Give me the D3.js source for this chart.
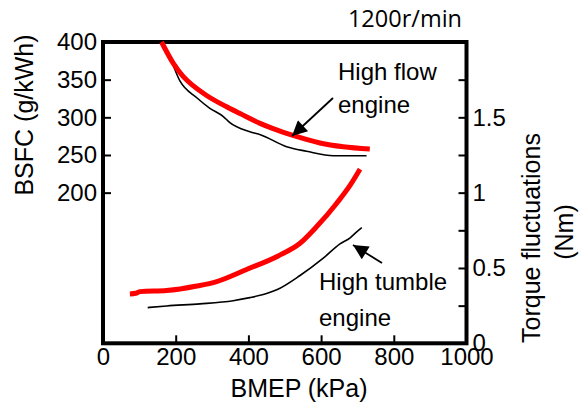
<!DOCTYPE html>
<html>
<head>
<meta charset="utf-8">
<script src="https://cdn.jsdelivr.net/npm/d3@7"></script>
<style>
  body { margin: 0; background: #fff; }
  svg text { font-family: "Liberation Sans", Arial, sans-serif; fill: #000; }
</style>
</head>
<body>
<div id="box"></div>
<script>
// BSFC curves (upper), BMEP in kPa
var flowBsfcX = [161, 193, 221, 248, 285, 340, 377, 432, 468, 523, 597, 661, 734];
var flowBsfcY = [400, 372, 354, 342, 329, 314, 305, 292, 285, 276, 266, 261, 258];
var tumbleBsfcX = [160, 184, 212, 258, 294, 331, 349, 404, 433, 505, 560, 634, 725];
var tumbleBsfcY = [400, 379, 348, 326, 312, 301, 293, 281, 277, 261, 255, 249, 249];

// torque fluctuation curves (lower), Nm
var flowTorqueX = [74, 90, 102, 175, 258, 313, 395, 482, 542, 588, 643, 680, 707];
var flowTorqueY = [0.328, 0.332, 0.343, 0.35, 0.38, 0.41, 0.49, 0.58, 0.664, 0.775, 0.93, 1.05, 1.156];
var tumbleTorqueX = [123, 175, 267, 358, 404, 450, 478, 542, 606, 652, 680, 698, 712];
var tumbleTorqueY = [0.237, 0.248, 0.262, 0.283, 0.303, 0.33, 0.355, 0.45, 0.565, 0.66, 0.70, 0.74, 0.768];

var xTicks = [0, 200, 400, 600, 800, 1000];
var bsfcTicks = [200, 250, 300, 350, 400];
var torqueTicks = [0, 0.25, 0.5, 0.75, 1, 1.25, 1.5, 1.75, 2];
var torqueLabels = ["0", "", "0.5", "", "1", "", "1.5", "", ""];

var svg = d3.select("#box").append("svg")
    .attr("width", 587)
    .attr("height", 403);

var plotL = 103, plotR = 466.5, plotT = 42, plotB = 343.3;

var x = d3.scaleLinear().domain([0, 1000]).range([plotL, plotR]);
var yBsfc = d3.scaleLinear().domain([0, 400]).range([plotB, plotT]);
var yTorque = d3.scaleLinear().domain([0, 2]).range([plotB, plotT]);

function pairs(xs, ys) {
    return xs.map(function(v, i) { return [v, ys[i]]; });
}

// axes
var gx = svg.append("g")
    .attr("transform", "translate(0," + plotB + ")")
    .call(d3.axisBottom(x).tickValues(xTicks).tickSize(-8).tickPadding(5).tickFormat(d3.format("d")));
var gl = svg.append("g")
    .attr("transform", "translate(" + plotL + ",0)")
    .call(d3.axisLeft(yBsfc).tickValues(bsfcTicks).tickSize(-8).tickPadding(6));
var gr = svg.append("g")
    .attr("transform", "translate(" + plotR + ",0)")
    .call(d3.axisRight(yTorque).tickValues(torqueTicks).tickSize(-8).tickPadding(6)
        .tickFormat(function(d, i) { return torqueLabels[i]; }));

[gx, gl, gr].forEach(function(g) {
    g.select(".domain").remove();
    g.selectAll(".tick line").attr("stroke", "#000").attr("stroke-width", 2);
    g.selectAll(".tick text").attr("font-size", 24).attr("font-family", "Liberation Sans, Arial, sans-serif");
});

// frame
svg.append("rect")
    .attr("x", plotL).attr("y", plotT)
    .attr("width", plotR - plotL).attr("height", plotB - plotT)
    .attr("fill", "none").attr("stroke", "#000").attr("stroke-width", 4);

// curves
var lineB = d3.line().x(function(d) { return x(d[0]); }).y(function(d) { return yBsfc(d[1]); }).curve(d3.curveMonotoneX);
var lineT = d3.line().x(function(d) { return x(d[0]); }).y(function(d) { return yTorque(d[1]); }).curve(d3.curveMonotoneX);

svg.append("path").attr("d", lineB(pairs(tumbleBsfcX, tumbleBsfcY)))
    .attr("fill", "none").attr("stroke", "#000").attr("stroke-width", 1.6);
svg.append("path").attr("d", lineB(pairs(flowBsfcX, flowBsfcY)))
    .attr("fill", "none").attr("stroke", "#ff0000").attr("stroke-width", 5);
svg.append("path").attr("d", lineT(pairs(tumbleTorqueX, tumbleTorqueY)))
    .attr("fill", "none").attr("stroke", "#000").attr("stroke-width", 1.6);
svg.append("path").attr("d", lineT(pairs(flowTorqueX, flowTorqueY)))
    .attr("fill", "none").attr("stroke", "#ff0000").attr("stroke-width", 5);

// arrows
svg.append("defs").append("marker")
    .attr("id", "head")
    .attr("viewBox", "0 0 10 10")
    .attr("refX", 10).attr("refY", 5)
    .attr("markerWidth", 18).attr("markerHeight", 15)
    .attr("markerUnits", "userSpaceOnUse")
    .attr("orient", "auto")
    .append("path").attr("d", "M0,0L10,5L0,10Z").attr("fill", "#000");

svg.append("line")
    .attr("x1", 333).attr("y1", 98).attr("x2", 292).attr("y2", 136)
    .attr("stroke", "#000").attr("stroke-width", 1.8).attr("marker-end", "url(#head)");
svg.append("line")
    .attr("x1", 382).attr("y1", 263).attr("x2", 353).attr("y2", 245)
    .attr("stroke", "#000").attr("stroke-width", 1.8).attr("marker-end", "url(#head)");

// annotations
function label(txt, px, py, size) {
    return svg.append("text").attr("x", px).attr("y", py).attr("font-size", size).text(txt);
}
label("High flow", 338, 80, 24);
label("engine", 338, 113, 24);
label("High tumble", 319, 290, 24);
label("engine", 319, 326, 24);

svg.append("text")
    .attr("x", 462).attr("y", 27)
    .attr("text-anchor", "end")
    .attr("font-size", 23.5)
    .style("font-family", "'Open Sans', sans-serif")
    .text("1200r/min");

// axis titles
svg.append("text")
    .attr("x", 299).attr("y", 397)
    .attr("text-anchor", "middle").attr("font-size", 25)
    .text("BMEP (kPa)");
svg.append("text")
    .attr("transform", "translate(33,115) rotate(-90)")
    .attr("text-anchor", "middle").attr("font-size", 25)
    .text("BSFC (g/kWh)");
svg.append("text")
    .attr("transform", "translate(540,238) rotate(-90)")
    .attr("text-anchor", "middle").attr("font-size", 25)
    .text("Torque fluctuations");
svg.append("text")
    .attr("transform", "translate(573,232) rotate(-90)")
    .attr("text-anchor", "middle").attr("font-size", 25)
    .text("(Nm)");
</script>
</body>
</html>
